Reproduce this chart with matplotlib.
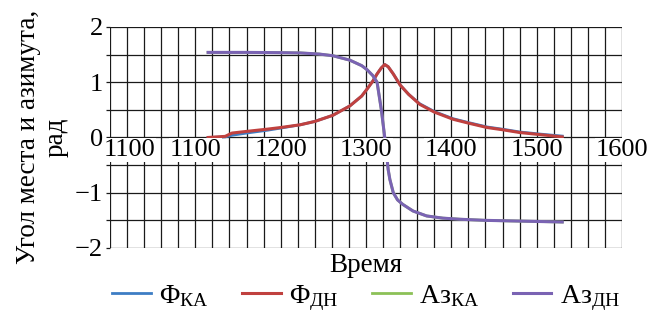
import matplotlib
matplotlib.use('Agg')
import matplotlib.pyplot as plt
import numpy as np

plt.rcParams['font.family'] = 'Liberation Serif'
plt.rcParams['mathtext.fontset'] = 'custom'
plt.rcParams['mathtext.rm'] = 'Liberation Serif'
plt.rcParams['mathtext.it'] = 'Liberation Serif'

# data
t_phi = [1115, 1135, 1143, 1160, 1184, 1200, 1223, 1240, 1261, 1281, 1295, 1301,
         1308, 1313, 1318, 1322, 1326, 1332, 1340, 1350, 1363, 1380, 1402, 1420,
         1442, 1460, 1480, 1505, 1530]
phi_dn = [0.0, 0.02, 0.08, 0.11, 0.15, 0.18, 0.23, 0.29, 0.40, 0.57, 0.75, 0.87,
          1.02, 1.15, 1.26, 1.32, 1.28, 1.15, 0.95, 0.78, 0.60, 0.46, 0.33, 0.26,
          0.18, 0.14, 0.09, 0.05, 0.01]
phi_ka = [0.0, 0.01, 0.04, 0.08, 0.13, 0.17, 0.23, 0.29, 0.40, 0.57, 0.75, 0.87,
          1.02, 1.15, 1.26, 1.32, 1.28, 1.15, 0.95, 0.78, 0.61, 0.47, 0.34, 0.27,
          0.19, 0.15, 0.10, 0.06, 0.025]

t_az = [1115, 1160, 1200, 1223, 1245, 1261, 1281, 1295, 1301, 1308, 1313, 1318,
        1322, 1326, 1328, 1332, 1337, 1343, 1355, 1371, 1390, 1410, 1440, 1469,
        1500, 1530]
az_dn = [1.54, 1.54, 1.535, 1.53, 1.51, 1.48, 1.40, 1.30, 1.23, 1.12, 1.0, 0.5,
         0.0, -0.58, -0.76, -1.0, -1.13, -1.21, -1.33, -1.42, -1.46, -1.48, -1.50,
         -1.51, -1.52, -1.53]
az_ka = [1.54, 1.54, 1.535, 1.53, 1.51, 1.48, 1.40, 1.30, 1.23, 1.12, 1.0, 0.5,
         0.0, -0.58, -0.76, -1.0, -1.13, -1.21, -1.33, -1.42, -1.46, -1.48, -1.50,
         -1.51, -1.52, -1.53]

xtick_pos = [1000, 1100, 1200, 1300, 1400, 1500, 1600]
xtick_lab = ['1100', '1100', '1200', '1300', '1400', '1500', '1600']
ytick_pos = [-2, -1, 0, 1, 2]

fig = plt.figure(figsize=(6.57, 3.25), dpi=100)
ax = fig.add_axes([0.1674, 0.237, 0.7793, 0.68])

ax.plot(t_phi, phi_ka, color='#3d7dc4', lw=2.0, label='Φ$_{\\mathrm{КА}}$', zorder=3)
ax.plot(t_phi, phi_dn, color='#c0413f', lw=2.2, label='Φ$_{\\mathrm{ДН}}$', zorder=4)
ax.plot(t_az, az_ka, color='#8cc157', lw=2.0, label='Аз$_{\\mathrm{КА}}$', zorder=3)
ax.plot(t_az, az_dn, color='#7a63b3', lw=2.2, label='Аз$_{\\mathrm{ДН}}$', zorder=4)

ax.set_xlim(1000, 1600)
ax.set_ylim(-2, 2)

# grid
for x in np.arange(1000, 1601, 20):
    ax.axvline(x, color='#1a1a1a', lw=0.9, zorder=1)
for y in np.arange(-2, 2.01, 0.5):
    ax.axhline(y, color='#1a1a1a', lw=0.9, zorder=1)
for s in ax.spines.values():
    s.set_visible(False)

ax.set_xticks([])
ax.set_yticks(np.arange(-2, 2.01, 0.5))
ax.set_yticklabels([str(int(v)).replace('-', '\u2212') if v in ytick_pos else ''
                    for v in np.arange(-2, 2.01, 0.5)])
ax.tick_params(axis='y', length=3, width=0.9, color='#1a1a1a', labelsize=19, pad=2)

# x tick labels sitting just below the zero line on white patches
for i, (p, lab) in enumerate(zip(xtick_pos, xtick_lab)):
    xp = p + 23 if i == 0 else p
    ax.text(xp, -0.03, lab, ha='center', va='top', fontsize=19, zorder=5,
            bbox=dict(facecolor='white', edgecolor='none', pad=0.5))

fig.text(0.044, 0.578, 'Угол места и азимута,', rotation=90, ha='center', va='center',
         fontsize=19.5)
fig.text(0.086, 0.578, 'рад', rotation=90, ha='center', va='center', fontsize=19.5)
fig.text(0.557, 0.183, 'Время', ha='center', va='center', fontsize=19.5)

fig.legend(loc='center', bbox_to_anchor=(0.557, 0.083), ncol=4, frameon=False,
           fontsize=20, handlelength=1.4, columnspacing=1.2, handletextpad=0.3)

fig.savefig('out.png', dpi=100)
